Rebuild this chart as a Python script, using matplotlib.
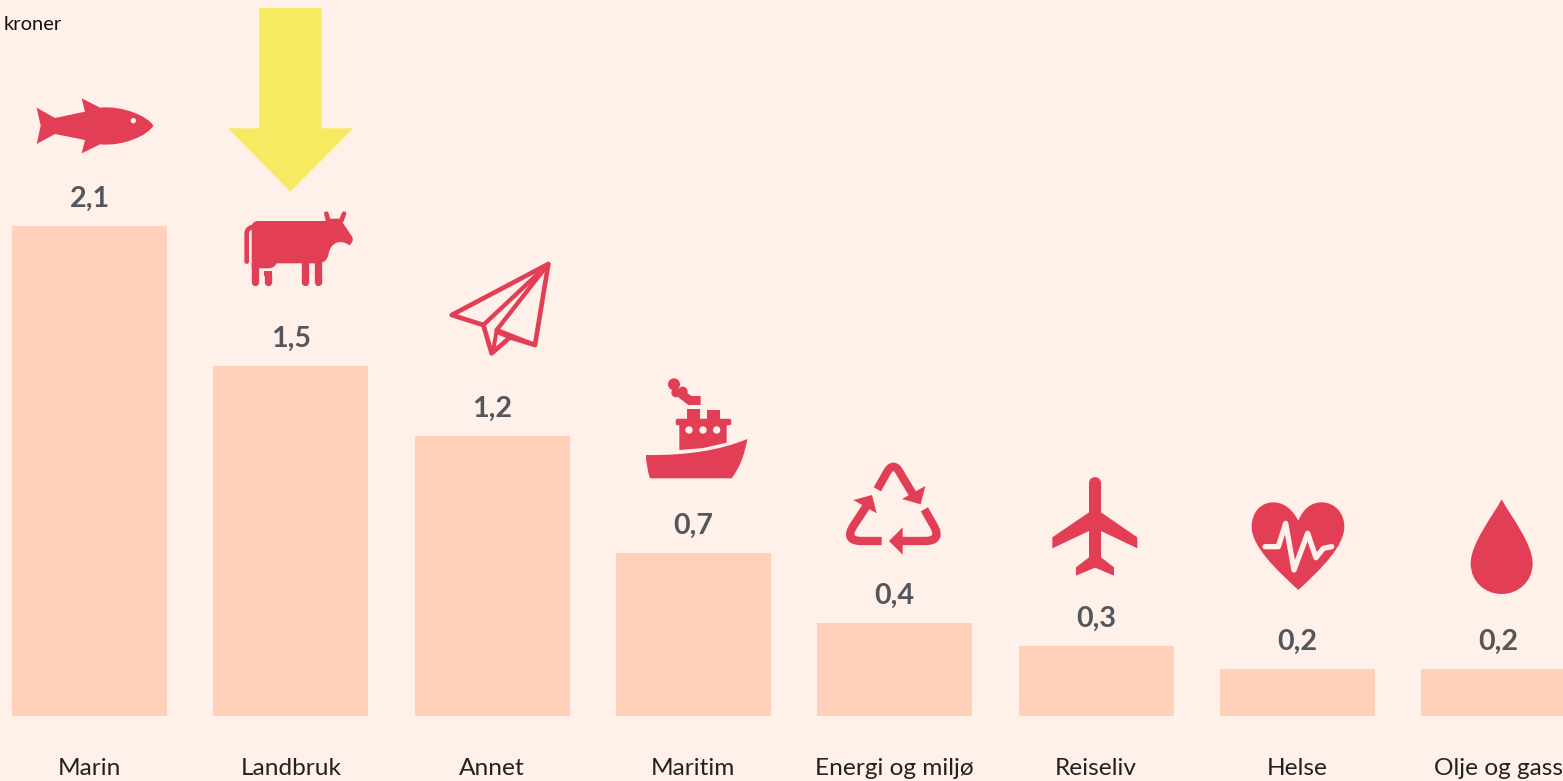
import matplotlib
matplotlib.use('Agg')
import matplotlib.pyplot as plt
from matplotlib.path import Path
from matplotlib.patches import PathPatch, Polygon, Circle, Rectangle

categories = ['Marin', 'Landbruk', 'Annet', 'Maritim', 'Energi og miljø',
              'Reiseliv', 'Helse', 'Olje og gass']
values = [2.1, 1.5, 1.2, 0.7, 0.4, 0.3, 0.2, 0.2]
value_labels = ['2,1', '1,5', '1,2', '0,7', '0,4', '0,3', '0,2', '0,2']

BG = '#FFF0E9'
BAR = '#FFD1BA'
RED = '#E23F56'
YELLOW = '#F7EA63'
GREY = '#54565B'
LW = 72 / 100 / 3  # zoomed pixels to points

M, L, C3, C4, CL = Path.MOVETO, Path.LINETO, Path.CURVE3, Path.CURVE4, Path.CLOSEPOLY

plt.rcParams['font.family'] = ['Lato', 'DejaVu Sans']


def z(pts, ox, oy):
    return [(ox + x / 3, oy + y / 3) for x, y in pts]


def poly(ic, pts, ox, oy, color=RED, round_lw=0):
    ic.add_patch(Polygon(z(pts, ox, oy), closed=True, fc=color, ec=color,
                         lw=round_lw, joinstyle='round'))


def curve(ic, pts, codes, ox, oy, fill=True, lw=0, color=RED, cap='butt'):
    path = Path(z(pts, ox, oy), codes)
    ic.add_patch(PathPatch(path, fc=color if fill else 'none', ec=color if lw else 'none',
                           lw=lw, capstyle=cap, joinstyle='round'))


def stroke(ic, pts, ox, oy, width, color=RED):
    xy = z(pts, ox, oy)
    ic.plot([p[0] for p in xy], [p[1] for p in xy], color=color, lw=width * LW,
            solid_joinstyle='round', solid_capstyle='round')


def circle(ic, x, y, r, ox, oy, color=RED):
    (cx, cy), = z([(x, y)], ox, oy)
    ic.add_patch(Circle((cx, cy), r / 3, fc=color, ec='none'))


def draw_fish(ic):
    pts = [(110, 323), (165, 354), (255, 335), (245, 295), (300, 323),
           (370, 316), (445, 350), (460, 377), (445, 405), (370, 440), (300, 433),
           (245, 460), (255, 420), (165, 402), (110, 432), (122, 377), (110, 323)]
    codes = [M, L, L, L, L, C4, C4, C4, C4, C4, C4, L, L, L, L, L, CL]
    curve(ic, pts, codes, 0, 0)
    circle(ic, 400, 362, 8, 0, 0, BG)


def draw_arrow(ic):
    poly(ic, [(778, 24), (965, 24), (965, 385), (1060, 385), (871, 575), (684, 385), (778, 385)],
         0, 0, YELLOW)


def draw_cow(ic):
    body = [(775, 663), (975, 663), (985, 656), (1020, 656), (1055, 708), (1065, 722), (1048, 736),
            (1030, 722), (1010, 728), (990, 735), (985, 765), (980, 790), (950, 790),
            (830, 790), (822, 805), (805, 805), (755, 805), (755, 683), (755, 663), (775, 663)]
    codes = [M, L, L, L, L, C3, C3, C3, C3, C3, C3, C3, C3, L, C3, C3, L, L, C3, C3]
    curve(ic, body, codes, 0, 0)
    for x in (766, 916, 954):
        stroke(ic, [(x, 785), (x, 846)], 0, 0, 22)
    stroke(ic, [(804, 825), (804, 846)], 0, 0, 22)
    ic.add_patch(Rectangle((793 / 3, 812 / 3), 22 / 3, 15 / 3, fc=RED, ec='none'))
    tail = [(740, 785), (740, 700), (740, 685), (760, 680)]
    curve(ic, tail, [M, L, C3, C3], 0, 0, fill=False, lw=14 * LW, cap='round')
    stroke(ic, [(979, 641), (985, 662)], 0, 0, 14)
    stroke(ic, [(1032, 641), (1024, 662)], 0, 0, 14)


def draw_paper_plane(ic):
    ox, oy = 430, 250
    outer = [(355, 42), (65, 195), (160, 225), (185, 310), (240, 262), (315, 285)]
    ic.add_patch(Polygon(z(outer, ox, oy), closed=True, fc='none', ec=RED, lw=14 * LW, joinstyle='round'))
    stroke(ic, [(160, 225), (355, 42), (200, 240), (315, 285)], ox, oy, 13)
    stroke(ic, [(200, 240), (190, 300)], ox, oy, 12)
    stroke(ic, [(205, 248), (240, 262)], ox, oy, 12)


def draw_ship(ic):
    ox, oy = 430, 250
    hull = [(648, 615), (830, 618), (952, 567), (940, 640), (905, 685), (660, 685), (648, 650), (648, 615)]
    curve(ic, hull, [M, C3, C3, C3, C3, L, C3, C3], ox, oy)
    poly(ic, [(748, 515), (890, 515), (890, 578), (820, 594), (748, 600)], ox, oy)
    poly(ic, [(741, 510), (897, 510), (897, 518), (741, 518)], ox, oy, round_lw=2.5)
    poly(ic, [(770, 476), (810, 476), (810, 512), (770, 512)], ox, oy)
    poly(ic, [(830, 480), (870, 480), (870, 512), (830, 512)], ox, oy)
    poly(ic, [(755, 418), (785, 438), (812, 438), (812, 465), (775, 465), (745, 442)], ox, oy)
    for x, y, r in [(732, 403, 18), (758, 425, 15), (738, 428, 14)]:
        circle(ic, x, y, r, ox, oy)
    for x in (777, 819, 860):
        circle(ic, x, 540, 11, ox, oy, BG)


def draw_recycle(ic):
    ox, oy = 830, 450
    w = 25 * LW
    curve(ic, [(142, 118), (168, 72), (190, 28), (212, 72), (250, 135)],
          [M, L, C3, C3, L], ox, oy, fill=False, lw=w)
    poly(ic, [(286, 108), (272, 163), (216, 147)], ox, oy)
    curve(ic, [(283, 178), (310, 225), (338, 273), (285, 273), (205, 273)],
          [M, L, C3, C3, L], ox, oy, fill=False, lw=w)
    poly(ic, [(218, 232), (218, 314), (177, 273)], ox, oy)
    curve(ic, [(155, 273), (95, 273), (40, 273), (72, 225), (115, 160)],
          [M, L, C3, C3, L], ox, oy, fill=False, lw=w)
    poly(ic, [(70, 150), (126, 135), (140, 190)], ox, oy)


def draw_plane(ic):
    pts = [(777, 100), (777, 75), (813, 75), (813, 100), (813, 187), (922, 262), (922, 295), (813, 243),
           (813, 322), (852, 352), (852, 377), (795, 353), (738, 377), (738, 352), (777, 322),
           (777, 243), (667, 295), (667, 262), (777, 187), (777, 100)]
    codes = [M, C4, C4, C4] + [L] * 15 + [CL]
    curve(ic, pts, codes, 830, 450)


def draw_heart(ic):
    ox, oy = 1240, 490
    pts = [(175, 92), (155, 55), (130, 37), (100, 37), (60, 37), (35, 70), (35, 110),
           (35, 170), (110, 240), (175, 300), (240, 240), (313, 170), (313, 110),
           (313, 70), (285, 37), (245, 37), (215, 37), (190, 55), (175, 92)]
    curve(ic, pts, [M] + [C4] * 18, ox, oy)
    stroke(ic, [(75, 170), (115, 170), (137, 100), (162, 240), (203, 130), (228, 203), (250, 175), (275, 170)],
           ox, oy, 16, BG)


def draw_drop(ic):
    pts = [(785, 28), (760, 75), (692, 160), (692, 220), (692, 275), (735, 312), (785, 312),
           (835, 312), (878, 275), (878, 220), (878, 160), (810, 75), (785, 28)]
    curve(ic, pts, [M] + [C4] * 12, 1240, 490)


def main():
    fig = plt.figure(figsize=(15.63, 7.81), dpi=100, facecolor=BG)

    # baseline sits 65 px above the bottom edge, one unit is 233.3 px
    ax = fig.add_axes([0, 65 / 781, 1, 716 / 781])
    ax.set_facecolor('none')
    step = 201.3
    ax.set_xlim(-89.5 / step, (1563 - 89.5) / step)
    ax.set_ylim(0, 716 / 233.33)
    ax.bar(range(len(values)), values, width=155 / step, color=BAR)
    for i, v in enumerate(values):
        ax.annotate(value_labels[i], xy=(i, v), xytext=(0, 19.5), textcoords='offset points',
                    ha='center', va='center', fontsize=20.6, fontweight='bold', color=GREY)
    ax.set_xticks(range(len(categories)))
    ax.set_xticklabels(categories, fontsize=17.6, color='#222222')
    ax.tick_params(axis='x', length=0, pad=30)
    ax.set_yticks([])
    for s in ax.spines.values():
        s.set_visible(False)

    # overlay in image pixels for the icons
    ic = fig.add_axes([0, 0, 1, 1])
    ic.set_xlim(0, 1563)
    ic.set_ylim(781, 0)
    ic.axis('off')
    ic.set_facecolor('none')

    draw_arrow(ic)
    draw_fish(ic)
    draw_cow(ic)
    draw_paper_plane(ic)
    draw_ship(ic)
    draw_recycle(ic)
    draw_plane(ic)
    draw_heart(ic)
    draw_drop(ic)

    ic.text(4, 24, 'kroner', fontsize=14.5, color='#111111', ha='left', va='center')

    fig.savefig('out.png', dpi=100, facecolor=BG)


if __name__ == '__main__':
    main()
